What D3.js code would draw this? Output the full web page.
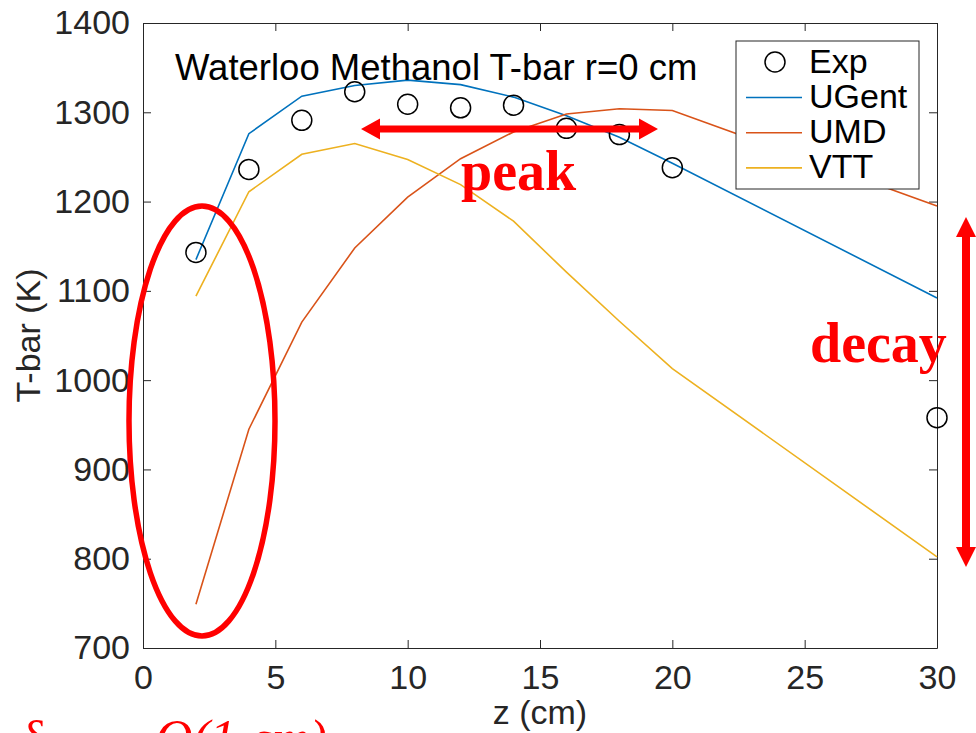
<!DOCTYPE html>
<html>
<head>
<meta charset="utf-8">
<script src="https://cdn.jsdelivr.net/npm/d3@7/dist/d3.min.js"></script>
<style>
  body { margin: 0; background: #fff; }
  svg { display: block; }
  .axis text { font-family: "Liberation Sans", Arial, sans-serif; fill: #262626; }
  .axis path, .axis line { stroke: #262626; }
</style>
</head>
<body>
<div id="chart"></div>
<script>
// values
const zExp = [2, 4, 6, 8, 10, 12, 14, 16, 18, 20, 30];
const tExp = [1143, 1236, 1291, 1323, 1309, 1305, 1308, 1282, 1275, 1238, 958];

const zModel = [2, 4, 6, 8, 10, 12, 14, 16, 18, 20, 30];
const tUGent = [1135, 1276, 1318, 1330, 1336, 1331, 1317, 1296, 1272, 1243, 1092];
const tUMD   = [749, 945, 1065, 1148, 1205, 1248, 1278, 1298, 1304, 1302, 1195];
const tVTT   = [1094, 1211, 1253, 1265, 1247, 1219, 1178, 1121, 1066, 1013, 802];

const seriesNames = ['UGent', 'UMD', 'VTT'];
const seriesColors = ['#0072BD', '#D95319', '#EDB120'];
const xTicks = [0, 5, 10, 15, 20, 25, 30];
const yTicks = [700, 800, 900, 1000, 1100, 1200, 1300, 1400];

const W = 976, H = 733;
const margin = { top: 23, right: 39, bottom: 85, left: 143 };
const width = W - margin.left - margin.right;
const height = H - margin.top - margin.bottom;

const svg = d3.select('#chart').append('svg')
  .attr('width', W)
  .attr('height', H);

const x = d3.scaleLinear().domain([0, 30]).range([margin.left, margin.left + width]);
const y = d3.scaleLinear().domain([700, 1400]).range([margin.top + height, margin.top]);

const fontSans = '"Liberation Sans", Arial, sans-serif';
const tickFont = 34;
const fmt = d3.format('d');

// axes, ticks inward on all four sides
svg.append('g')
  .attr('class', 'axis')
  .attr('transform', `translate(0, ${margin.top + height})`)
  .call(d3.axisBottom(x).tickValues(xTicks).tickFormat(fmt).tickSizeInner(-8).tickSizeOuter(0).tickPadding(17))
  .call(g => g.selectAll('text').style('font-size', tickFont + 'px'));
svg.append('g')
  .attr('class', 'axis')
  .attr('transform', `translate(${margin.left}, 0)`)
  .call(d3.axisLeft(y).tickValues(yTicks).tickFormat(fmt).tickSizeInner(-8).tickSizeOuter(0).tickPadding(13))
  .call(g => g.selectAll('text').style('font-size', tickFont + 'px'));
svg.append('g')
  .attr('class', 'axis')
  .attr('transform', `translate(0, ${margin.top})`)
  .call(d3.axisTop(x).tickValues(xTicks).tickSizeInner(-8).tickSizeOuter(0).tickFormat(''));
svg.append('g')
  .attr('class', 'axis')
  .attr('transform', `translate(${margin.left + width}, 0)`)
  .call(d3.axisRight(y).tickValues(yTicks).tickSizeInner(-8).tickSizeOuter(0).tickFormat(''));

// axis labels
svg.append('text')
  .attr('x', margin.left + width / 2)
  .attr('y', 724)
  .attr('text-anchor', 'middle')
  .style('font-family', fontSans)
  .style('font-size', '34px')
  .style('fill', '#262626')
  .text('z (cm)');
svg.append('text')
  .attr('transform', `translate(40, ${margin.top + height / 2}) rotate(-90)`)
  .attr('text-anchor', 'middle')
  .style('font-family', fontSans)
  .style('font-size', '34px')
  .style('fill', '#262626')
  .text('T-bar (K)');

// model lines
const line = d3.line().x(d => x(d[0])).y(d => y(d[1]));
[tUGent, tUMD, tVTT].forEach((vals, i) => {
  svg.append('path')
    .datum(zModel.map((z, j) => [z, vals[j]]))
    .attr('d', line)
    .attr('fill', 'none')
    .attr('stroke', seriesColors[i])
    .attr('stroke-width', 1.6);
});

// experiment markers
svg.append('g').selectAll('circle')
  .data(zExp.map((z, j) => [z, tExp[j]]))
  .enter().append('circle')
  .attr('cx', d => x(d[0]))
  .attr('cy', d => y(d[1]))
  .attr('r', 10)
  .attr('fill', 'none')
  .attr('stroke', '#000')
  .attr('stroke-width', 1.5);

// title inside the axes
svg.append('text')
  .attr('x', 175)
  .attr('y', 80)
  .style('font-family', fontSans)
  .style('font-size', '36.5px')
  .style('fill', '#000')
  .text('Waterloo Methanol T-bar r=0 cm');

// legend
const lg = svg.append('g');
lg.append('rect')
  .attr('x', 736).attr('y', 41)
  .attr('width', 183).attr('height', 148)
  .attr('fill', '#fff')
  .attr('stroke', '#262626')
  .attr('stroke-width', 1);
lg.append('circle')
  .attr('cx', 775).attr('cy', 62).attr('r', 10)
  .attr('fill', 'none').attr('stroke', '#000').attr('stroke-width', 1.5);
lg.append('text')
  .attr('x', 809).attr('y', 73)
  .style('font-family', fontSans).style('font-size', '34px')
  .text('Exp');
seriesNames.forEach((name, i) => {
  const yy = 97.5 + i * 35.2;
  lg.append('line')
    .attr('x1', 746).attr('x2', 802)
    .attr('y1', yy).attr('y2', yy)
    .attr('stroke', seriesColors[i]).attr('stroke-width', 1.6);
  lg.append('text')
    .attr('x', 809).attr('y', yy + 10.5)
    .style('font-family', fontSans).style('font-size', '34px')
    .text(name);
});

// red annotations
const red = '#ff0000';
const ann = svg.append('g');
ann.append('ellipse')
  .attr('cx', 202).attr('cy', 421)
  .attr('rx', 73).attr('ry', 215)
  .attr('fill', 'none')
  .attr('stroke', red)
  .attr('stroke-width', 5.5);

// double arrows
function hArrow(x1, x2, yc, t, hl, hw) {
  return `M${x1},${yc} L${x1 + hl},${yc - hw} L${x1 + hl},${yc - t / 2} L${x2 - hl},${yc - t / 2} ` +
    `L${x2 - hl},${yc - hw} L${x2},${yc} L${x2 - hl},${yc + hw} L${x2 - hl},${yc + t / 2} ` +
    `L${x1 + hl},${yc + t / 2} L${x1 + hl},${yc + hw} Z`;
}
function vArrow(xc, y1, y2, t, hl, hw) {
  return `M${xc},${y1} L${xc + hw},${y1 + hl} L${xc + t / 2},${y1 + hl} L${xc + t / 2},${y2 - hl} ` +
    `L${xc + hw},${y2 - hl} L${xc},${y2} L${xc - hw},${y2 - hl} L${xc - t / 2},${y2 - hl} ` +
    `L${xc - t / 2},${y1 + hl} L${xc - hw},${y1 + hl} Z`;
}
ann.append('path').attr('d', hArrow(361, 658, 129, 7, 19, 10.5)).attr('fill', red);
ann.append('path').attr('d', vArrow(966, 217, 567, 8, 20, 10)).attr('fill', red);

const fontSerif = '"Liberation Serif", "Times New Roman", serif';
ann.append('text')
  .attr('x', 461).attr('y', 190)
  .style('font-family', fontSerif).style('font-weight', 'bold')
  .style('font-size', '56px').style('fill', red)
  .text('peak');
ann.append('text')
  .attr('x', 810).attr('y', 362)
  .style('font-family', fontSerif).style('font-weight', 'bold')
  .style('font-size', '56px').style('fill', red)
  .text('decay');

// note cut off by the bottom edge, as in the picture
ann.append('text')
  .attr('x', 22).attr('y', 757)
  .style('font-family', fontSerif)
  .style('font-size', '52px').style('fill', red)
  .text('δ');
ann.append('text')
  .attr('x', 155).attr('y', 756)
  .style('font-family', fontSerif).style('font-style', 'italic')
  .style('font-size', '52px').style('fill', red)
  .text('O(1 cm)');
</script>
</body>
</html>
